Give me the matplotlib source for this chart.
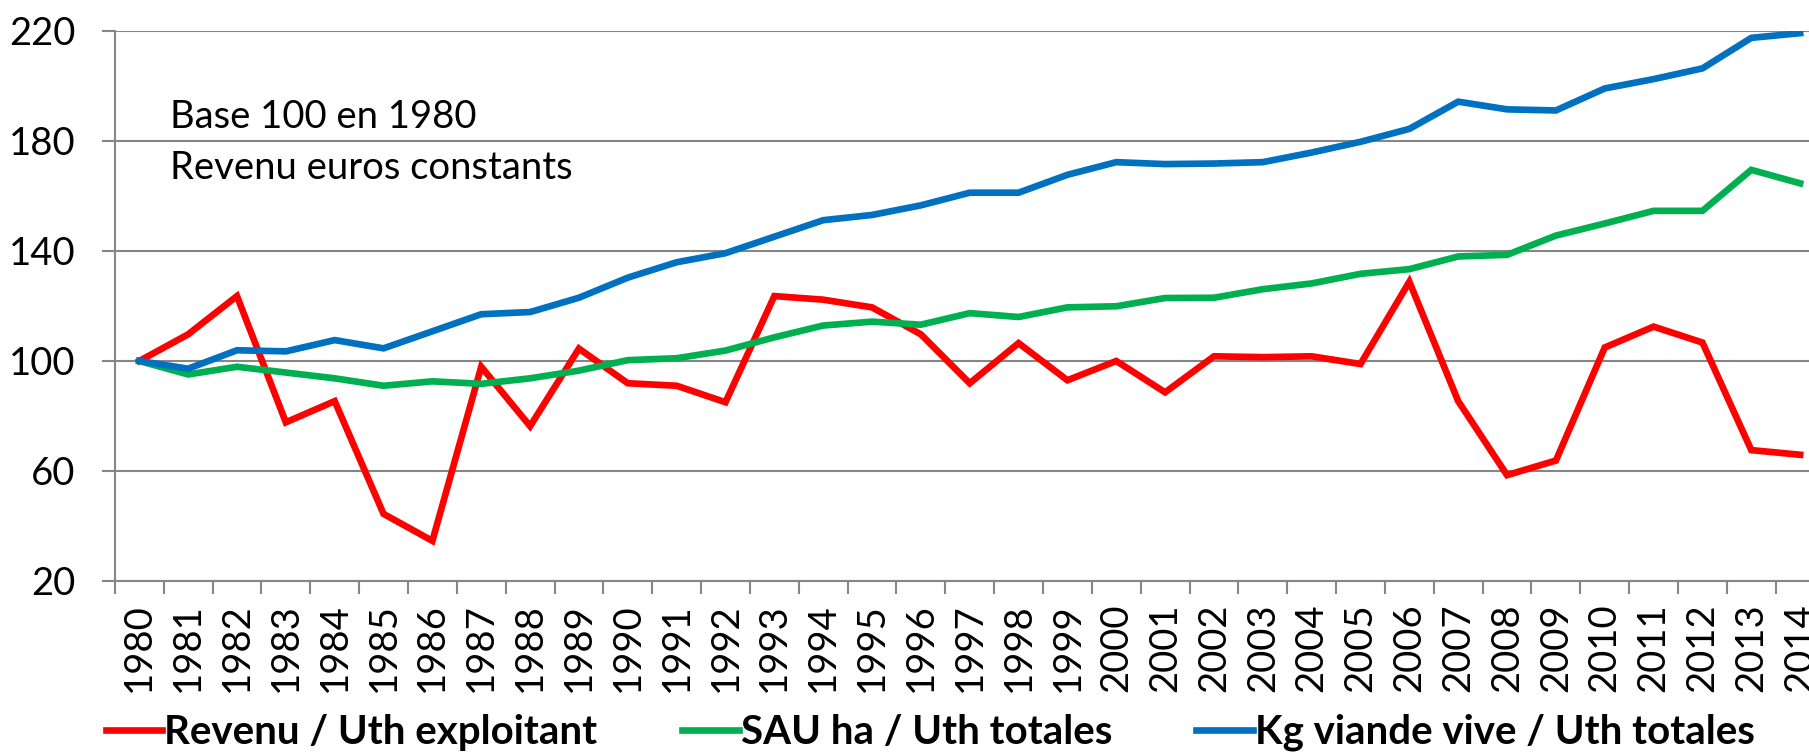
import matplotlib.pyplot as plt
from matplotlib.ticker import FixedLocator

plt.rcParams['font.family'] = ['Lato', 'DejaVu Sans']

years = [str(y) for y in range(1980, 2015)]
revenu = [100, 109.7, 123.6, 77.7, 85.4, 44.4, 34.6, 97.9, 76.3, 104.5,
          91.9, 91.0, 85.0, 123.6, 122.3, 119.5, 109.7, 91.9, 106.5, 93.0,
          100, 88.6, 101.7, 101.4, 101.7, 98.9, 128.8, 85.4, 58.5, 63.8,
          104.9, 112.5, 106.7, 67.6, 65.9]
sau = [100, 95.1, 97.9, 95.8, 93.7, 91.0, 92.6, 91.7, 93.7, 96.5,
       100.3, 101.0, 103.8, 108.6, 112.9, 114.3, 113.2, 117.4, 116.0, 119.5,
       119.9, 122.9, 123.0, 126.1, 128.2, 131.7, 133.4, 138.0, 138.6, 145.6,
       150.0, 154.6, 154.6, 169.5, 164.6]
viande = [100, 97.2, 103.9, 103.5, 107.6, 104.6, 110.8, 117.0, 117.8, 123.0,
          130.3, 135.9, 139.2, 145.2, 151.2, 153.1, 156.6, 161.2, 161.2, 167.7,
          172.3, 171.6, 171.8, 172.3, 175.8, 179.7, 184.4, 194.3, 191.5, 191.1,
          199.1, 202.5, 206.4, 217.5, 219.2]

labels = ["Revenu / Uth exploitant", "SAU ha / Uth totales", "Kg viande vive / Uth totales"]
colors = ["#FF0000", "#00B050", "#0070C0"]

fig = plt.figure(figsize=(18.09, 7.52), dpi=100)
ax = fig.add_axes([0.0635, 0.2274, 0.9451, 0.7314])

x = list(range(len(years)))
for serie, lab, col in zip([revenu, sau, viande], labels, colors):
    ax.plot(x, serie, color=col, lw=4.8, label=lab, solid_joinstyle='miter')

ax.set_xlim(-0.5, len(years) - 0.5)
ax.set_ylim(20, 220)
ax.set_yticks([20, 60, 100, 140, 180, 220])
ax.yaxis.grid(True, color="#868686", lw=1.5)
ax.set_axisbelow(True)

ax.set_xticks(x)
ax.set_xticklabels(years, rotation=90, fontsize=27.5)
ax.xaxis.set_minor_locator(FixedLocator([i - 0.5 for i in range(len(years) + 1)]))
ax.tick_params(axis='x', which='major', length=0, pad=16)
ax.tick_params(axis='x', which='minor', length=9, width=1.5, color="#868686")
ax.tick_params(axis='y', length=9.5, width=1.5, color="#868686", labelsize=27.5, pad=19)

for s in ['top', 'right']:
    ax.spines[s].set_visible(False)
for s in ['left', 'bottom']:
    ax.spines[s].set_color("#868686")
    ax.spines[s].set_linewidth(1.5)

ax.text(0.0323, 0.8236, "Base 100 en 1980", transform=ax.transAxes, fontsize=27.5, va='baseline')
ax.text(0.0323, 0.731, "Revenu euros constants", transform=ax.transAxes, fontsize=27.5, va='baseline')

fig.legend(loc='center left', bbox_to_anchor=(106 / 1809, 0.026), ncol=3, frameon=False,
           borderpad=0, borderaxespad=0, handlelength=1.4, handletextpad=0.05,
           columnspacing=2.1, prop={'weight': 'bold', 'size': 29})

fig.savefig("out.png", dpi=100)
